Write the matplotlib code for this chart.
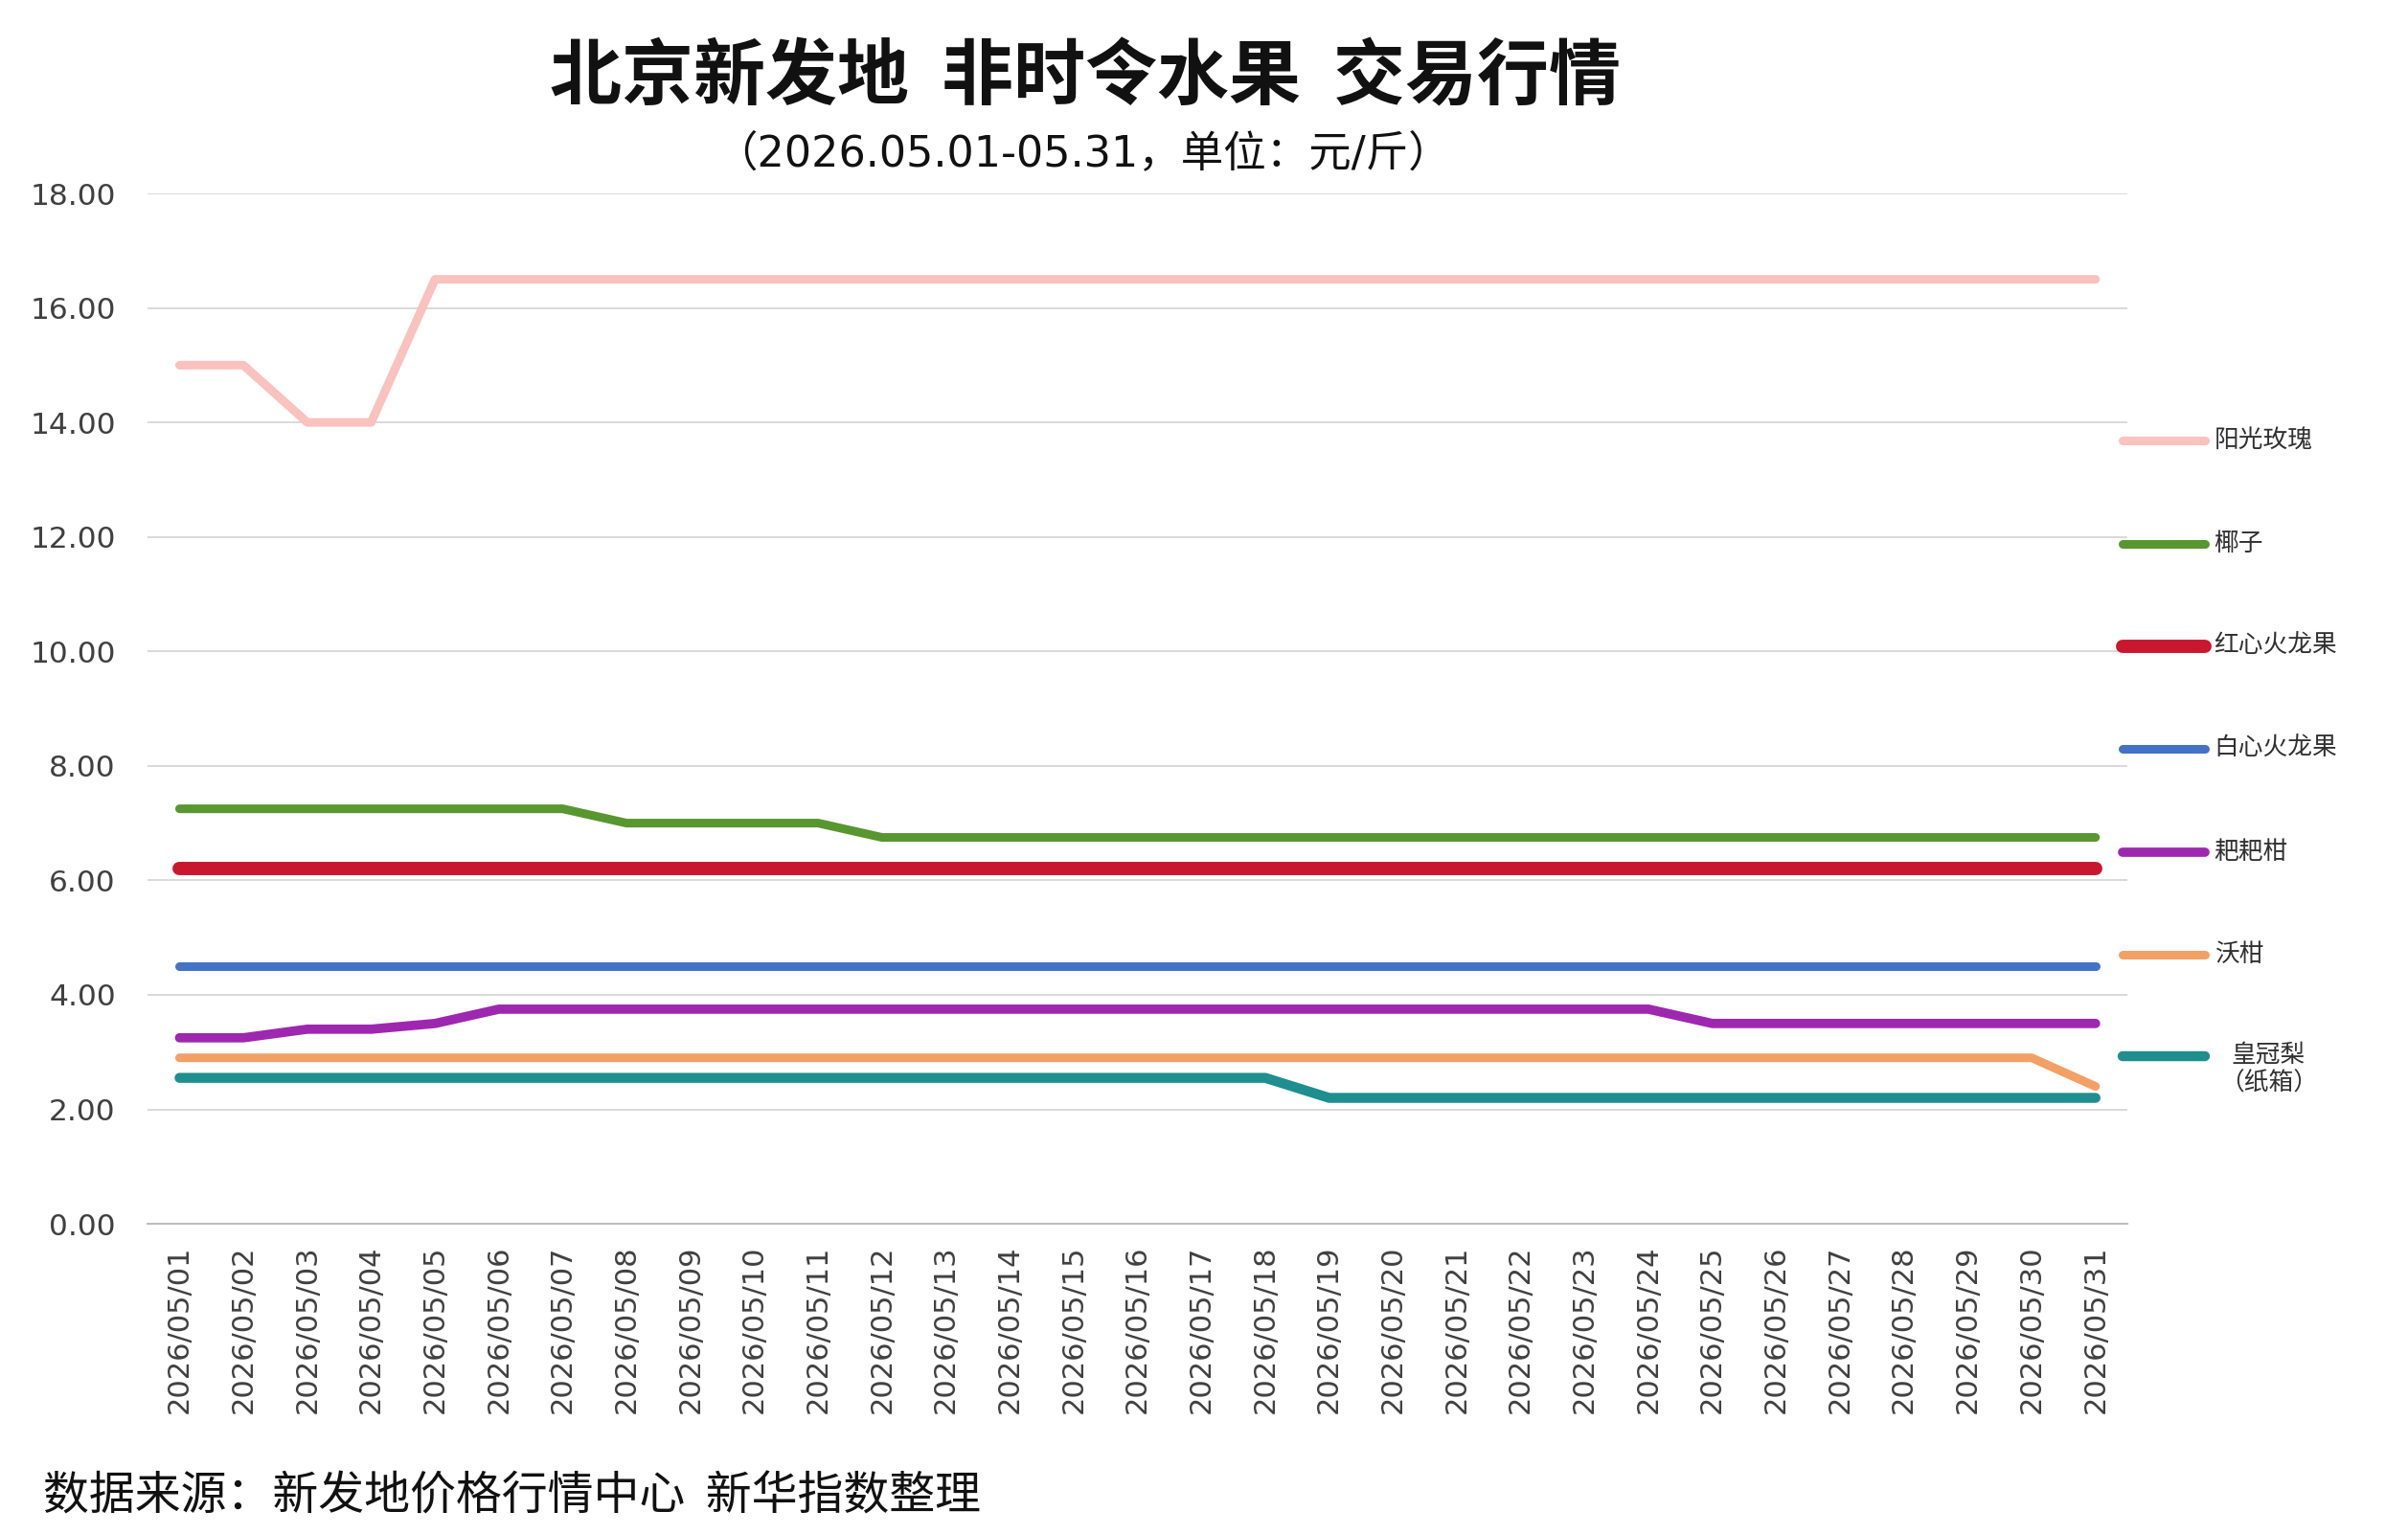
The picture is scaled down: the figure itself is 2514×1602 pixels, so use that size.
import matplotlib
matplotlib.use("Agg")
import matplotlib.pyplot as plt
from matplotlib.lines import Line2D

plt.rcParams['font.family'] = ['Noto Sans CJK SC', 'DejaVu Sans']

dates = ["2026/05/01", "2026/05/02", "2026/05/03", "2026/05/04", "2026/05/05", "2026/05/06",
         "2026/05/07", "2026/05/08", "2026/05/09", "2026/05/10", "2026/05/11", "2026/05/12",
         "2026/05/13", "2026/05/14", "2026/05/15", "2026/05/16", "2026/05/17", "2026/05/18",
         "2026/05/19", "2026/05/20", "2026/05/21", "2026/05/22", "2026/05/23", "2026/05/24",
         "2026/05/25", "2026/05/26", "2026/05/27", "2026/05/28", "2026/05/29", "2026/05/30",
         "2026/05/31"]

yangguang_meigui = [15.0, 15.0, 14.0, 14.0, 16.5, 16.5, 16.5, 16.5, 16.5, 16.5, 16.5, 16.5,
                    16.5, 16.5, 16.5, 16.5, 16.5, 16.5, 16.5, 16.5, 16.5, 16.5, 16.5, 16.5,
                    16.5, 16.5, 16.5, 16.5, 16.5, 16.5, 16.5]
yezi = [7.25, 7.25, 7.25, 7.25, 7.25, 7.25, 7.25, 7.0, 7.0, 7.0, 7.0, 6.75,
        6.75, 6.75, 6.75, 6.75, 6.75, 6.75, 6.75, 6.75, 6.75, 6.75, 6.75, 6.75,
        6.75, 6.75, 6.75, 6.75, 6.75, 6.75, 6.75]
hongxin_huolongguo = [6.2] * 31
baixin_huolongguo = [4.5] * 31
bababgan = [3.25, 3.25, 3.4, 3.4, 3.5, 3.75, 3.75, 3.75, 3.75, 3.75, 3.75, 3.75,
            3.75, 3.75, 3.75, 3.75, 3.75, 3.75, 3.75, 3.75, 3.75, 3.75, 3.75, 3.75,
            3.5, 3.5, 3.5, 3.5, 3.5, 3.5, 3.5]
wogan = [2.9, 2.9, 2.9, 2.9, 2.9, 2.9, 2.9, 2.9, 2.9, 2.9, 2.9, 2.9,
         2.9, 2.9, 2.9, 2.9, 2.9, 2.9, 2.9, 2.9, 2.9, 2.9, 2.9, 2.9,
         2.9, 2.9, 2.9, 2.9, 2.9, 2.9, 2.4]
huangguanli = [2.55, 2.55, 2.55, 2.55, 2.55, 2.55, 2.55, 2.55, 2.55, 2.55, 2.55, 2.55,
               2.55, 2.55, 2.55, 2.55, 2.55, 2.55, 2.2, 2.2, 2.2, 2.2, 2.2, 2.2,
               2.2, 2.2, 2.2, 2.2, 2.2, 2.2, 2.2]

series_names = ["阳光玫瑰", "椰子", "红心火龙果", "白心火龙果", "耙耙柑", "沃柑", "皇冠梨\n（纸箱）"]
series_values = [yangguang_meigui, yezi, hongxin_huolongguo, baixin_huolongguo, bababgan, wogan, huangguanli]
colors = ["#F9C2BE", "#58962F", "#C8172F", "#4472C4", "#9E27B0", "#F3A066", "#1F8E8E"]
widths = [6.5, 6.5, 10.0, 6.5, 7.0, 6.5, 7.5]

yticks = [0, 2, 4, 6, 8, 10, 12, 14, 16, 18]
ytick_labels = ["0.00", "2.00", "4.00", "6.00", "8.00", "10.00", "12.00", "14.00", "16.00", "18.00"]

fig = plt.figure(figsize=(25.14, 16.02), dpi=100)
ax = fig.add_axes([0.0613, 0.2022, 0.8222, 0.6717])

x = list(range(len(dates)))
for name, vals, c, lw in zip(series_names, series_values, colors, widths):
    ax.plot(x, vals, color=c, linewidth=lw, solid_capstyle='round',
            solid_joinstyle='round', zorder=3)

ax.set_xlim(-0.5, len(dates) - 0.5)
ax.set_ylim(0, 18)
ax.set_yticks(yticks)
ax.set_yticklabels(ytick_labels, fontsize=22.5, color="#404040", family="DejaVu Sans")
ax.set_xticks(x)
ax.set_xticklabels(dates, rotation=90, fontsize=22, color="#404040", family="DejaVu Sans")
ax.tick_params(axis='both', length=0)
ax.tick_params(axis='y', pad=24)
ax.tick_params(axis='x', pad=16)
ax.grid(axis='y', color="#D9D9D9", linewidth=1.4, zorder=0)
for s in ['top', 'right', 'left']:
    ax.spines[s].set_visible(False)
ax.spines['bottom'].set_color("#BFBFBF")
ax.spines['bottom'].set_linewidth(1.5)
ax.set_axisbelow(True)

# legend on the right
leg_y = [0.7129, 0.6454, 0.5787, 0.5119, 0.4444, 0.3777, 0.3115]
for name, c, lw, yy in zip(series_names, colors, widths, leg_y):
    fig.add_artist(Line2D([0.8815, 0.9155], [yy, yy], transform=fig.transFigure,
                          color=c, linewidth=lw, solid_capstyle='round'))
    if "\n" in name:
        fig.text(0.942, yy + 0.009, name, fontsize=18.5, color="#303030", ha='center',
                 va='top', multialignment='center', linespacing=1.2)
    else:
        fig.text(0.9195, yy, name, fontsize=18.5, color="#303030", ha='left', va='center')

fig.text(0.4505, 0.949, "北京新发地  非时令水果  交易行情", fontsize=54, fontweight='bold',
         ha='center', va='center', color="#111111")
fig.text(0.4497, 0.900, "（2026.05.01-05.31，单位：元/斤）", fontsize=32,
         ha='center', va='center', color="#111111", family=['DejaVu Sans', 'Noto Sans CJK SC'])
fig.text(0.018, 0.0244, "数据来源：新发地价格行情中心  新华指数整理", fontsize=34.5,
         ha='left', va='center', color="#111111")

fig.savefig("out.png", dpi=100, facecolor="white")
